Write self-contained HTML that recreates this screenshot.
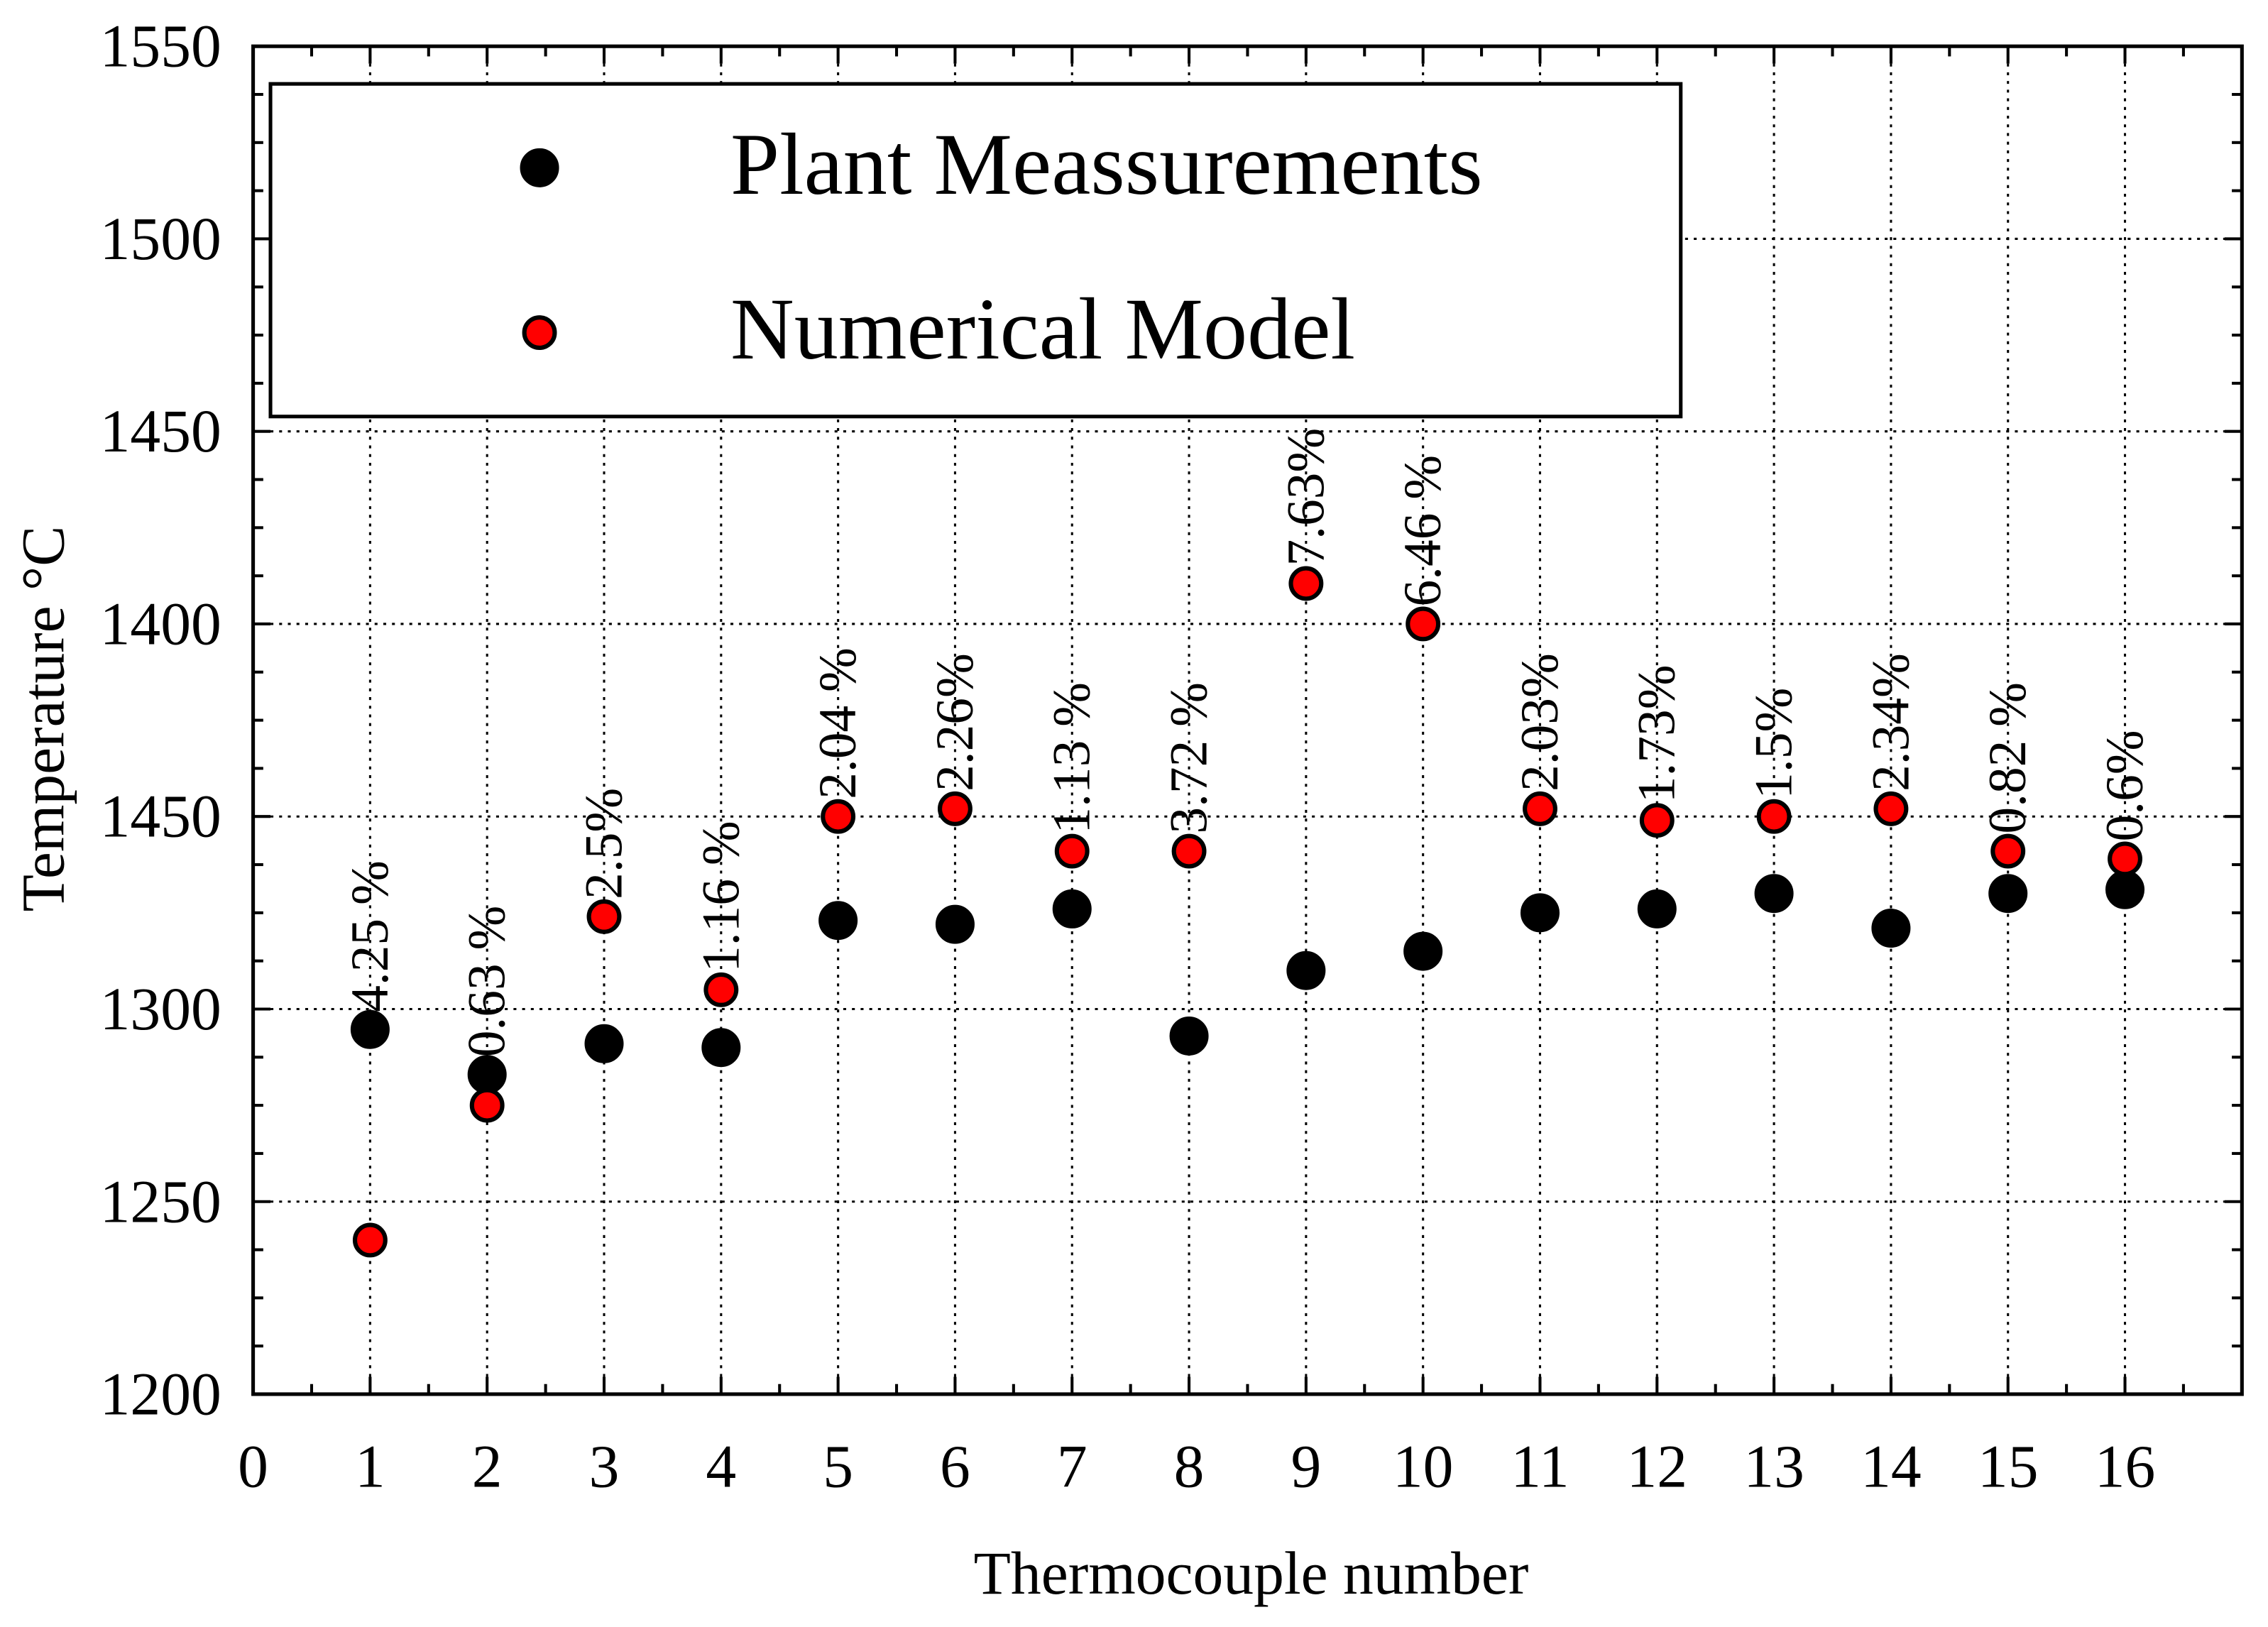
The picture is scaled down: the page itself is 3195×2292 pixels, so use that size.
<!DOCTYPE html>
<html><head><meta charset="utf-8"><style>
html,body{margin:0;padding:0;background:#fff}
svg{display:block}
text{font-family:"Liberation Serif",serif;fill:#000}
</style></head><body>
<svg id="chart" width="3195" height="2292" viewBox="0 0 1568 1125" preserveAspectRatio="none" xmlns="http://www.w3.org/2000/svg">
<g id="grid"></g>
<g id="axes"></g>
<g id="marks"></g>
<text x="44" y="497" font-size="42" text-anchor="middle" transform="rotate(-90 44 497)">Temperature °C</text>
<text x="865" y="1102" font-size="42" text-anchor="middle">Thermocouple number</text>
<g>
<rect x="187" y="58" width="975" height="230" fill="#fff" stroke="#000" stroke-width="2.5"/>
<circle cx="373" cy="116" r="12.5" fill="#000" stroke="#000" stroke-width="2"/>
<text x="505" y="134" font-size="61">Plant Meassurements</text>
<circle cx="373" cy="230" r="10.5" fill="#ff0000" stroke="#000" stroke-width="3"/>
<text x="505" y="248" font-size="61">Numerical Model</text>
</g>
</svg>
<script>
const xTicks=[0,1,2,3,4,5,6,7,8,9,10,11,12,13,14,15,16];
const yTickValues=[1200,1250,1300,1350,1400,1450,1500,1550];
const yTickLabels=["1200","1250","1300","1450","1400","1450","1500","1550"];
const categories=[1,2,3,4,5,6,7,8,9,10,11,12,13,14,15,16];
const plantValues=[1294.7,1283,1291,1290,1323,1322,1326,1293,1310,1315,1325,1326,1330,1321,1330,1331];
const modelValues=[1240,1275,1324,1305,1350,1352,1341,1341,1410.5,1400,1352,1349,1350,1352,1341,1339];
const errorLabels=["4.25 %","0.63 %","2.5%","1.16 %","2.04 %","2.26%","1.13 %","3.72 %","7.63%","6.46 %","2.03%","1.73%","1.5%","2.34%","0.82 %","0.6%"];

const NS="http://www.w3.org/2000/svg";
const L=175,R=1550,T=32,B=964;
const xMin=0,xMax=17,yMin=1200,yMax=1550;
function xs(v){return L+(v-xMin)/(xMax-xMin)*(R-L);}
function ys(v){return B-(v-yMin)/(yMax-yMin)*(B-T);}
function mk(tag,attrs,parent){const e=document.createElementNS(NS,tag);for(const k in attrs)e.setAttribute(k,attrs[k]);parent.appendChild(e);return e;}
const grid=document.getElementById('grid'),axes=document.getElementById('axes'),marks=document.getElementById('marks');
categories.forEach(c=>{const l=mk('line',{x1:xs(c),x2:xs(c),y1:T,y2:B,stroke:'#000','stroke-width':1.5,'stroke-dasharray':'2 4'},grid);

});
yTickValues.forEach(v=>{if(v===yMin||v===yMax)return;const l=mk('line',{x1:L,x2:R,y1:ys(v),y2:ys(v),stroke:'#000','stroke-width':1.5,'stroke-dasharray':'2 4'},grid);

});
const fr=mk('rect',{x:L,y:T,width:R-L,height:B-T,fill:'none',stroke:'#000','stroke-width':2.5},axes);


for(let v=0;v<=17;v+=0.5){const big=Number.isInteger(v);const len=big?12:7;
mk('line',{x1:xs(v),x2:xs(v),y1:B,y2:B-len,stroke:'#000','stroke-width':2},axes);
mk('line',{x1:xs(v),x2:xs(v),y1:T,y2:T+len,stroke:'#000','stroke-width':2},axes);}
xTicks.forEach(v=>{const t=mk('text',{x:xs(v),y:1028,'font-size':42,'text-anchor':'middle'},axes);t.textContent=v;

});
for(let v=yMin;v<=yMax;v+=12.5){const big=(v%50===0);const len=big?12:7;
mk('line',{x1:L,x2:L+len,y1:ys(v),y2:ys(v),stroke:'#000','stroke-width':2},axes);
mk('line',{x1:R,x2:R-len,y1:ys(v),y2:ys(v),stroke:'#000','stroke-width':2},axes);}
yTickValues.forEach((v,i)=>{const t=mk('text',{x:153,y:ys(v)+14,'font-size':42,'text-anchor':'end'},axes);t.textContent=yTickLabels[i];

});
categories.forEach((c,i)=>{
const p=mk('circle',{cx:xs(c),cy:ys(plantValues[i]),r:12.5,fill:'#000',stroke:'#000','stroke-width':2},marks);


const m=mk('circle',{cx:xs(c),cy:ys(modelValues[i]),r:10.5,fill:'#ff0000',stroke:'#000','stroke-width':3},marks);


const top=Math.min(ys(plantValues[i]),ys(modelValues[i]));
const lx=xs(c)+12,ly=top-12;
const t=mk('text',{x:lx,y:ly,'font-size':37,transform:`rotate(-90 ${lx} ${ly})`},marks);
t.textContent=errorLabels[i];


});
</script>
</body></html>
